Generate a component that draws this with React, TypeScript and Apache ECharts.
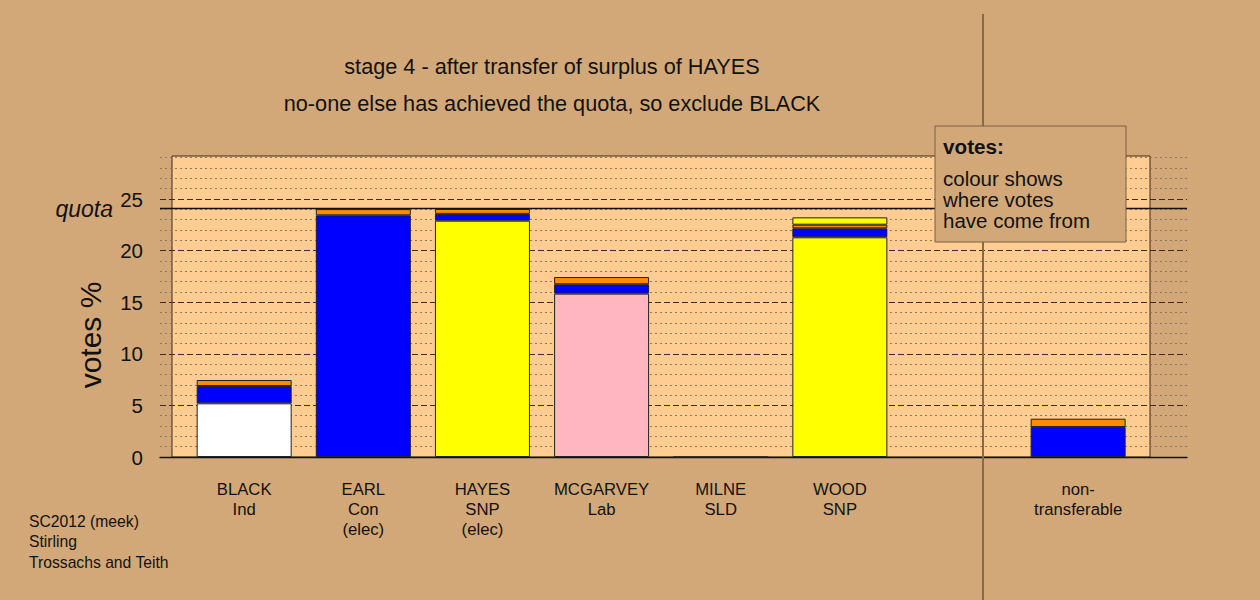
import React, { useEffect, useRef } from 'react';
import * as echarts from 'echarts';

// ---- data ----
const categories = ['BLACK\nInd', 'EARL\nCon\n(elec)', 'HAYES\nSNP\n(elec)', 'MCGARVEY\nLab', 'MILNE\nSLD', 'WOOD\nSNP', '', 'non-\ntransferable'];
const ownVotes: (number | null)[] = [5.2, 23.42, 22.9, 15.83, 0, 21.29, null, null];
const ownColours = ['#FFFFFF', '#0000FF', '#FFFF00', '#FFB6C1', '#FF8C00', '#FFFF00', '#FFFFFF', '#FFFFFF'];
const fromEarl: (number | null)[] = [1.68, null, 0.66, 0.91, null, 0.87, null, 2.91];
const fromMilne: (number | null)[] = [0.58, 0.6, 0.47, 0.7, null, 0.35, null, 0.8];
const fromHayes: (number | null)[] = [null, null, null, null, null, 0.71, null, null];
const earlColour = '#0000FF';
const milneColour = '#FF8C00';
const hayesColour = '#FFFF00';
const quota = 24.07;
const yMax = 30;
const yInterval = 5;
const titleLines = ['stage 4 - after transfer of surplus of HAYES', 'no-one else has achieved the quota, so exclude BLACK'];
const footnoteLines = ['SC2012 (meek)', 'Stirling', 'Trossachs and Teith'];
const legendTitle = 'votes:';
const legendLines = ['colour shows', 'where votes', 'have come from'];

const FONT = '"Liberation Sans", Arial, Helvetica, sans-serif';
const BG = '#D3A878';
const PANEL = '#FFCC91';

function layer(name: string, values: (number | null)[], colour: (i: number) => string) {
  return {
    name,
    type: 'bar',
    xAxisIndex: 0,
    yAxisIndex: 0,
    stack: 'votes',
    barWidth: 95,
    z: 3,
    itemStyle: { borderColor: '#222', borderWidth: 1 },
    data: values.map((v, i) => (v === null ? '-' : { value: v, itemStyle: { color: colour(i) } })),
  };
}

export default function App() {
  const ref = useRef<HTMLDivElement>(null);
  useEffect(() => {
    document.body.style.margin = '0';
    const chart = echarts.init(ref.current!, null, { renderer: 'svg' });
    const gTop = 457 - yMax * 10.32;
    const option: any = {
      animation: false,
      backgroundColor: BG,
      textStyle: { fontFamily: FONT },
      grid: [
        { left: 184.6, right: 122.3, top: gTop, bottom: 143 },
        { left: 160, right: 73, top: gTop, bottom: 143 },
        { left: 172, right: 110, top: 156, bottom: 143, show: true, backgroundColor: PANEL, borderColor: '#3a2a1a', borderWidth: 1, z: 0 },
      ],
      xAxis: [
        {
          gridIndex: 0, type: 'category', data: categories,
          axisLine: { show: false }, axisTick: { show: false },
          axisLabel: { interval: 0, fontSize: 16.7, lineHeight: 20, margin: 22, color: '#111', fontFamily: FONT },
        },
        {
          gridIndex: 1, type: 'value', min: 0, max: 1,
          axisLine: { show: true, onZero: false, lineStyle: { color: '#111', width: 1.3 } },
          axisTick: { show: false }, axisLabel: { show: false }, splitLine: { show: false },
        },
        { gridIndex: 2, type: 'value', show: false },
      ],
      yAxis: [
        { gridIndex: 0, type: 'value', min: 0, max: yMax, show: false, splitLine: { show: false } },
        {
          gridIndex: 1, type: 'value', min: 0, max: yMax, interval: yInterval,
          axisLine: { show: false }, axisTick: { show: false },
          axisLabel: { fontSize: 20.5, color: '#111', margin: 17, showMaxLabel: false, fontFamily: FONT },
          splitLine: { show: true, showMaxLine: false, showMinLine: false, lineStyle: { color: '#3b2c1c', type: [6, 3], width: 1 } },
          minorTick: { show: false, splitNumber: 5 },
          minorSplitLine: { show: true, lineStyle: { color: '#8c7862', type: [2, 3], width: 1 } },
        },
        { gridIndex: 2, type: 'value', show: false, splitLine: { show: false } },
      ],
      series: [
        layer('own', ownVotes, (i) => ownColours[i]),
        layer('EARL', fromEarl, () => earlColour),
        layer('MILNE', fromMilne, () => milneColour),
        layer('HAYES', fromHayes, () => hayesColour),
        {
          name: 'quota', type: 'line', xAxisIndex: 1, yAxisIndex: 1, data: [],
          markLine: {
            silent: true, symbol: 'none', z: 4,
            lineStyle: { color: '#111', type: 'solid', width: 1.3 },
            label: { show: true, position: 'start', distance: 47, formatter: 'quota', fontStyle: 'italic', fontSize: 23, color: '#111', fontFamily: FONT },
            data: [{ yAxis: quota }],
          },
        },
      ],
      graphic: [
        ...titleLines.map((t, i) => ({
          type: 'text', x: 552, y: 66 + i * 37, z: 10,
          style: { text: t, fontSize: 21.7, fontFamily: FONT, fill: '#111', textAlign: 'center', textVerticalAlign: 'middle' },
        })),
        {
          type: 'text', x: 90, y: 335, rotation: Math.PI / 2, z: 10,
          style: { text: 'votes %', fontSize: 30, fontFamily: FONT, fill: '#111', textAlign: 'center', textVerticalAlign: 'middle' },
        },
        ...footnoteLines.map((t, i) => ({
          type: 'text', x: 29, y: 521 + i * 20.5, z: 10,
          style: { text: t, fontSize: 15.7, fontFamily: FONT, fill: '#111', textAlign: 'left', textVerticalAlign: 'middle' },
        })),
        {
          type: 'line', z: 20, silent: true,
          shape: { x1: 983, y1: 14, x2: 983, y2: 600 },
          style: { stroke: '#8A6A45', lineWidth: 2 },
        },
        {
          type: 'rect', z: 30, silent: true,
          shape: { x: 935, y: 126, width: 191, height: 116 },
          style: { fill: BG, stroke: '#7a6048', lineWidth: 1 },
        },
        {
          type: 'text', x: 943, y: 146, z: 31,
          style: { text: legendTitle, fontSize: 20.7, fontWeight: 'bold', fontFamily: FONT, fill: '#111', textAlign: 'left', textVerticalAlign: 'middle' },
        },
        ...legendLines.map((t, i) => ({
          type: 'text', x: 943, y: 178 + i * 21, z: 31,
          style: { text: t, fontSize: 20.5, fontFamily: FONT, fill: '#111', textAlign: 'left', textVerticalAlign: 'middle' },
        })),
      ],
    };
    chart.setOption(option);
    return () => chart.dispose();
  }, []);
  return <div ref={ref} style={{ width: 1260, height: 600 }} />;
}
